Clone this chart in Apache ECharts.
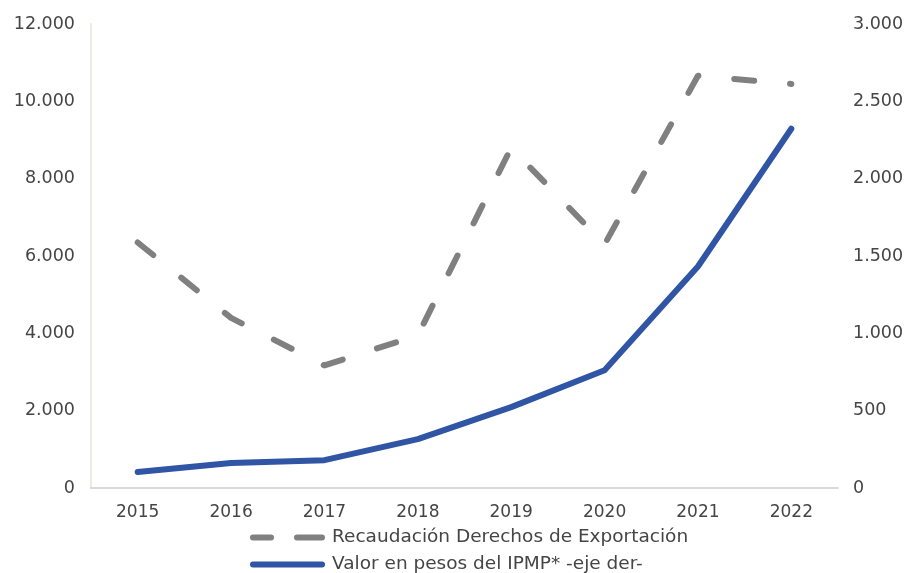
<!DOCTYPE html>
<html><head><meta charset="utf-8">
<script src="https://cdn.jsdelivr.net/npm/echarts@6/dist/echarts.min.js"></script>
<style>html,body{margin:0;padding:0;background:#fff}#c{width:909px;height:573px}</style>
</head><body><div id="c"></div>
<script>
const categories = ['2015','2016','2017','2018','2019','2020','2021','2022'];
const recaudacion = [6350, 4400, 3170, 3950, 8800, 6300, 10660, 10450];
const ipmp = [103, 161, 180, 316, 523, 761, 1432, 2323];
const leftTicks = {min:0, max:12000, interval:2000};
const rightTicks = {min:0, max:3000, interval:500};
const fmt = v => v === 0 ? '0' : v.toLocaleString('de-DE');
const font = 'DejaVu Sans';
const txt = '#454545';
const names = ['Recaudación Derechos de Exportación', 'Valor en pesos del IPMP* -eje der-'];
const legendBase = {orient:'horizontal', left:250, itemWidth:75, itemHeight:6, padding:0,
  textStyle:{fontFamily:font, fontSize:18.5, color:txt, padding:[0,0,0,2]}};
const chart = echarts.init(document.getElementById('c'));
chart.setOption({
  animation:false,
  grid:{left:91, right:71, top:24, bottom:85},
  legend:[
    Object.assign({}, legendBase, {top:528, data:[{name:names[0], icon:'path://M3,0H21A3,3 0 0 1 21,6H3A3,3 0 0 1 3,0Z M47,0H72A3,3 0 0 1 72,6H47A3,3 0 0 1 47,0Z'}]}),
    Object.assign({}, legendBase, {top:555, data:[{name:names[1], icon:'path://M3,0H72A3,3 0 0 1 72,6H3A3,3 0 0 1 3,0Z'}]})
  ],
  xAxis:{type:'category', data:categories, boundaryGap:true,
    axisLine:{lineStyle:{color:'#d9d9d9', width:2}}, axisTick:{show:false},
    axisLabel:{fontFamily:font, fontSize:17, color:txt, margin:16}},
  yAxis:[
    {type:'value', min:leftTicks.min, max:leftTicks.max, interval:leftTicks.interval,
     axisLine:{show:true, lineStyle:{color:'#ebebe3', width:2}}, axisTick:{show:false}, splitLine:{show:false},
     axisLabel:{fontFamily:font, fontSize:17.5, color:txt, margin:16, formatter:fmt}},
    {type:'value', min:rightTicks.min, max:rightTicks.max, interval:rightTicks.interval,
     axisLine:{show:false}, axisTick:{show:false}, splitLine:{show:false},
     axisLabel:{fontFamily:font, fontSize:17.5, color:txt, margin:15, formatter:fmt}}
  ],
  series:[
    {name:names[0], type:'line', yAxisIndex:0, data:recaudacion,
     symbol:'none', itemStyle:{color:'#808080'},
     lineStyle:{color:'#808080', width:6, type:[20,36], cap:'round', join:'round'}},
    {name:names[1], type:'line', yAxisIndex:1, data:ipmp,
     symbol:'none', itemStyle:{color:'#2f55a4'},
     lineStyle:{color:'#2f55a4', width:6, cap:'round', join:'round'}}
  ]
});
</script></body></html>
